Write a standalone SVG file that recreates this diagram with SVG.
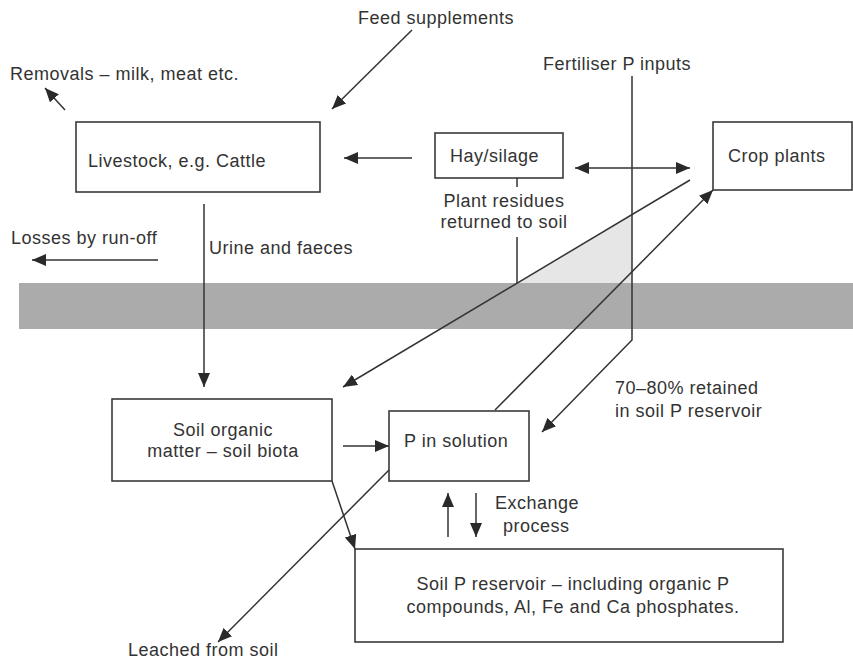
<svg xmlns="http://www.w3.org/2000/svg" width="853" height="662" viewBox="0 0 853 662">
  <style>
    .box { fill: #ffffff; stroke: #3a3a3a; stroke-width: 1.6; }
    .lbl { font-family: "Liberation Sans", Arial, sans-serif; font-size: 18px; letter-spacing: 0.5px; fill: #333333; }
    .mid { text-anchor: middle; }
    .flow { fill: none; stroke: #333333; stroke-width: 1.5; }
    .arr { marker-end: url(#head); }
  </style>
  <defs>
    <marker id="head" markerUnits="userSpaceOnUse" markerWidth="15" markerHeight="12" refX="14" refY="6" orient="auto-start-reverse">
      <path d="M0,0 L14,6 L0,12 Z" fill="#2a2a2a"/>
    </marker>
  </defs>

  <rect width="853" height="662" fill="#ffffff"/>

  <!-- soil surface band -->
  <rect x="19" y="283" width="834" height="46" fill="#ababab"/>
  <!-- residue wedge above the surface -->
  <polygon points="517,283 632,214.6 632,283" fill="#e6e6e6"/>

  <!-- free labels -->
  <text class="lbl" x="358" y="24">Feed supplements</text>
  <text class="lbl" x="10" y="80">Removals – milk, meat etc.</text>
  <text class="lbl mid" x="617" y="70">Fertiliser P inputs</text>
  <text class="lbl mid" x="504" y="207">Plant residues</text>
  <text class="lbl mid" x="504" y="228">returned to soil</text>
  <text class="lbl" x="11" y="244">Losses by run-off</text>
  <text class="lbl" x="209" y="254">Urine and faeces</text>
  <text class="lbl" x="615" y="394">70–80% retained</text>
  <text class="lbl" x="615" y="417">in soil P reservoir</text>
  <text class="lbl" x="495" y="509">Exchange</text>
  <text class="lbl" x="503" y="532">process</text>
  <text class="lbl" x="128" y="656">Leached from soil</text>

  <!-- nodes -->
  <g id="livestock">
    <rect class="box" x="76" y="122" width="244" height="70"/>
    <text class="lbl" x="88" y="167">Livestock, e.g. Cattle</text>
  </g>
  <g id="hay-silage">
    <rect class="box" x="435" y="133" width="128" height="45"/>
    <text class="lbl" x="450" y="162">Hay/silage</text>
  </g>
  <g id="crop-plants">
    <rect class="box" x="713" y="122" width="139" height="68"/>
    <text class="lbl" x="728" y="162">Crop plants</text>
  </g>
  <g id="soil-organic-matter">
    <rect class="box" x="112" y="399" width="220" height="82"/>
    <text class="lbl mid" x="223" y="436">Soil organic</text>
    <text class="lbl mid" x="223" y="457">matter – soil biota</text>
  </g>
  <g id="p-in-solution">
    <rect class="box" x="389" y="411" width="140" height="70"/>
    <text class="lbl" x="404" y="447">P in solution</text>
  </g>
  <g id="soil-p-reservoir">
    <rect class="box" x="355" y="549" width="428" height="93"/>
    <text class="lbl mid" x="573" y="590">Soil P reservoir – including organic P</text>
    <text class="lbl mid" x="573" y="613">compounds, Al, Fe and Ca phosphates.</text>
  </g>

  <!-- connectors -->
  <g id="connectors">
    <line class="flow arr" x1="412" y1="30" x2="332" y2="109"/>
    <line class="flow arr" x1="65" y1="110" x2="45" y2="88"/>
    <line class="flow arr" x1="412" y1="158" x2="344" y2="158"/>
    <line class="flow arr" x1="575" y1="168" x2="690" y2="168" marker-start="url(#head)"/>
    <polyline class="flow" points="517,178 517,187"/>
    <polyline class="flow" points="517,237 517,283"/>
    <line class="flow arr" x1="690" y1="180" x2="343" y2="387"/>
    <polyline class="flow arr" points="632,76 632,340 542,432"/>
    <line class="flow arr" x1="495" y1="410" x2="713" y2="190"/>
    <line class="flow arr" x1="158" y1="260" x2="32" y2="260"/>
    <line class="flow arr" x1="204" y1="204" x2="204" y2="387"/>
    <line class="flow arr" x1="343" y1="446" x2="389" y2="446"/>
    <line class="flow arr" x1="332" y1="481" x2="355" y2="549"/>
    <line class="flow arr" x1="389" y1="470" x2="218" y2="642"/>
    <line class="flow arr" x1="448" y1="537" x2="448" y2="493"/>
    <line class="flow arr" x1="476" y1="493" x2="476" y2="537"/>
  </g>
</svg>
